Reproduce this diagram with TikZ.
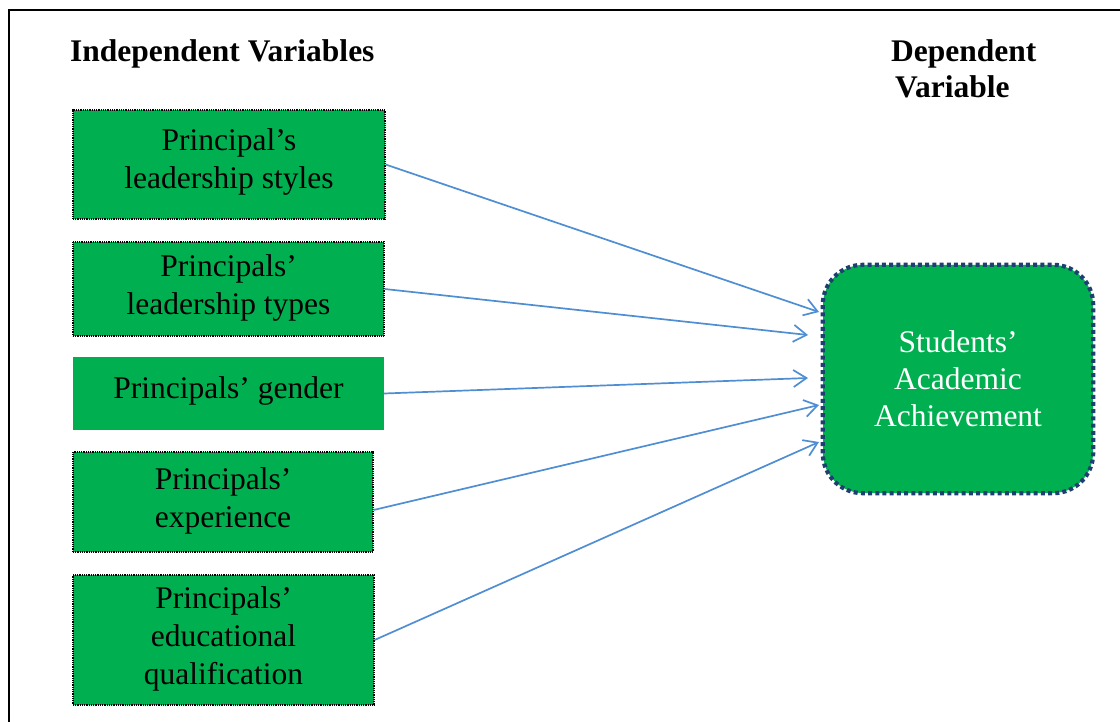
\documentclass[tikz,border=0pt]{standalone}
\usepackage{fontspec}
\setmainfont{Liberation Serif}
\usetikzlibrary{arrows.meta}
\definecolor{boxgreen}{HTML}{00B050}
\definecolor{arrowblue}{HTML}{4F8ED3}
\definecolor{dvborder}{HTML}{1F3F70}
\tikzset{
  ivbox/.style={fill=boxgreen, draw=black, line width=1.2pt, dash pattern=on 1pt off 0.8pt, inner sep=0pt},
  plainbox/.style={fill=boxgreen, inner sep=0pt},
  boxtext/.style={inner sep=0pt, align=center, text=black, font=\fontsize{31.5}{38}\selectfont},
  dvbox/.style={fill=boxgreen, rounded corners=40pt, inner sep=0pt},
  dvtext/.style={inner sep=0pt, align=center, text=white, font=\fontsize{31.5}{37}\selectfont},
  dvedge/.style={draw=dvborder, line width=4.2pt, dash pattern=on 4pt off 3.2pt, rounded corners=40pt},
  head/.style={font=\bfseries\fontsize{31.5}{37}\selectfont, inner sep=0pt},
  link/.style={draw=arrowblue, line width=1.7pt, -{Straight Barb[length=13pt,width=17pt,line width=1.7pt]}}
}
\begin{document}
\begin{tikzpicture}[x=1pt,y=-1pt]
\useasboundingbox (0,0) rectangle (1120,722);
\draw[line width=2pt] (9,722) -- (9,10) -- (1120,10);

\node[head, anchor=base west] (ih) at (70,62) {Independent Variables};
\node[head, anchor=base west] (dh1) at (891,62) {Dependent};
\node[head, anchor=base west] (dh2) at (895,98) {Variable};

\node[ivbox, minimum width=312pt, minimum height=109pt] (b1) at (229,164.5) {};
\node[ivbox, minimum width=311pt, minimum height=94pt] (b2) at (228.5,289) {};
\node[plainbox, minimum width=311pt, minimum height=73pt] (b3) at (228.5,393.5) {};
\node[ivbox, minimum width=300pt, minimum height=100pt] (b4) at (223,502) {};
\node[ivbox, minimum width=301pt, minimum height=130pt] (b5) at (223.5,640) {};

\node[boxtext] (b1t) at ([yshift=2.5pt]b1.center) {Principal’s\\leadership styles};
\node[boxtext] (b2t) at ([yshift=1pt]b2.center) {Principals’\\leadership types};
\node[boxtext] (b3t) at ([yshift=3pt]b3.center) {Principals’ gender};
\node[boxtext] (b4t) at ([yshift=1pt]b4.center) {Principals’\\experience};
\node[boxtext] (b5t) at ([yshift=1pt]b5.center) {Principals’\\educational\\qualification};

\node[dvbox, minimum width=270pt, minimum height=228pt] (dv) at (958,379) {};
\draw[dvedge] (dv.south west) rectangle (dv.north east);
\node[dvtext] (dvt) at (dv.center) {Students’\\Academic\\Achievement};

\coordinate (t1) at (819,312);
\coordinate (t2) at (808,335);
\coordinate (t3) at (808,378);
\coordinate (t4) at (819,405);
\coordinate (t5) at (819,442);

\draw[link] (b1.east) -- (t1);
\draw[link] (b2.east) -- (t2);
\draw[link] (b3.east) -- (t3);
\draw[link] ([yshift=-8pt]b4.east) -- (t4);
\draw[link] (b5.east) -- (t5);
\end{tikzpicture}
\end{document}
